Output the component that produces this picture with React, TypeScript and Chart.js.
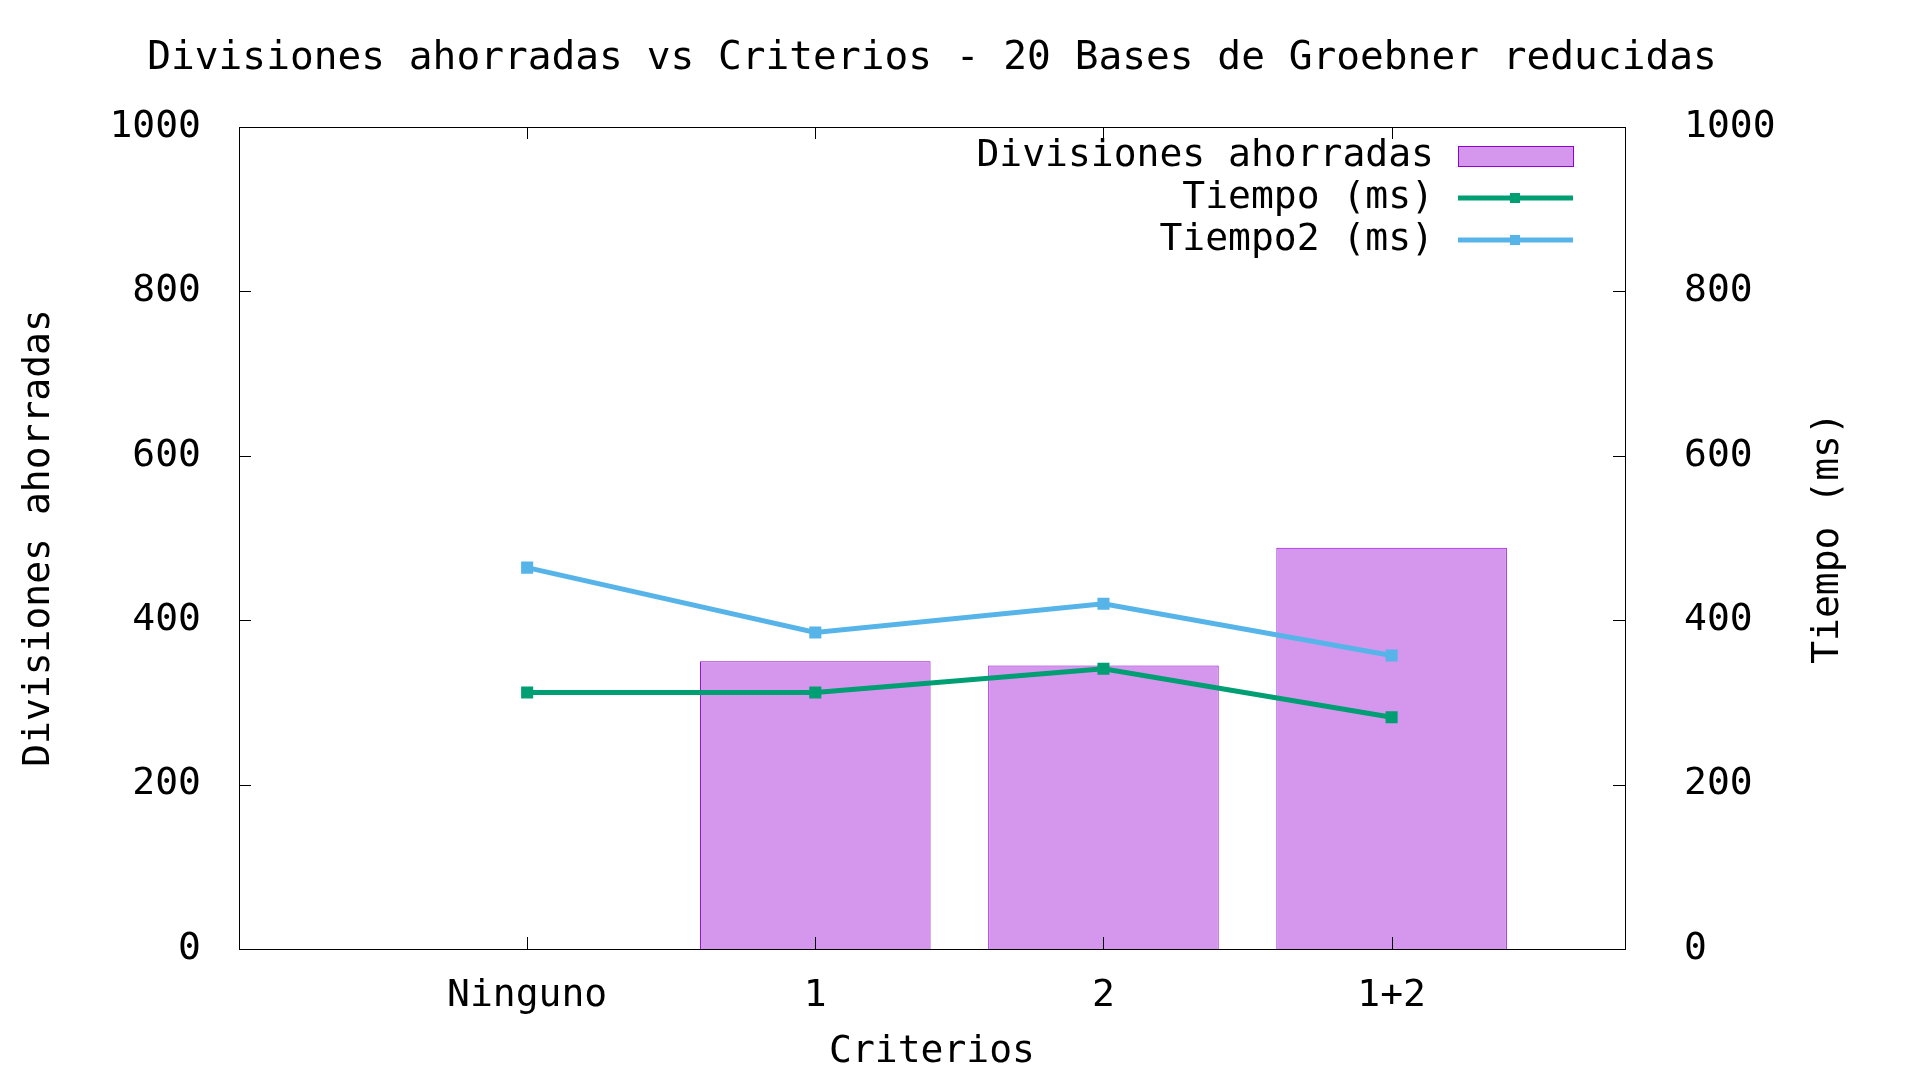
import { useEffect, useRef } from 'react';
import { Chart, registerables } from 'chart.js';

Chart.register(...registerables);

const categories = ['Ninguno', '1', '2', '1+2'];
const divisiones = [0, 350, 345, 488];
const tiempo = [312, 312, 341, 282];
const tiempo2 = [464, 385, 420, 357];
const yTicks = [0, 200, 400, 600, 800, 1000];

const FONT = '"DejaVu Sans Mono", monospace';
const BAR_FILL = '#d597ed';
const BAR_EDGE = '#9400d3';
const GREEN = '#009e73';
const BLUE = '#56b4e9';

const decorPlugin = {
  id: 'decor',
  afterDraw(chart: any) {
    const { ctx, chartArea: a } = chart;
    const ys = chart.scales.y;
    const xs = chart.scales.x;
    ctx.save();
    ctx.strokeStyle = '#000';
    ctx.lineWidth = 1;
    ctx.strokeRect(a.left + 0.5, a.top + 0.5, a.right - a.left, a.bottom - a.top);
    ctx.beginPath();
    yTicks.forEach(v => {
      const y = Math.round(ys.getPixelForValue(v)) + 0.5;
      ctx.moveTo(a.left, y); ctx.lineTo(a.left + 12, y);
      ctx.moveTo(a.right, y); ctx.lineTo(a.right - 12, y);
    });
    categories.forEach((_, i) => {
      const x = Math.round(xs.getPixelForValue(i)) + 0.5;
      ctx.moveTo(x, a.bottom); ctx.lineTo(x, a.bottom - 12);
      ctx.moveTo(x, a.top); ctx.lineTo(x, a.top + 12);
    });
    ctx.stroke();

    ctx.fillStyle = '#000';
    ctx.font = `38px ${FONT}`;
    ctx.textAlign = 'center';
    ctx.textBaseline = 'middle';
    ctx.save();
    ctx.font = `39.5px ${FONT}`;
    ctx.fillText('Divisiones ahorradas vs Criterios - 20 Bases de Groebner reducidas', 932, 59);
    ctx.restore();
    ctx.fillText('Criterios', 932, 1052);
    ctx.save();
    ctx.translate(39, 538); ctx.rotate(-Math.PI / 2);
    ctx.fillText('Divisiones ahorradas', 0, 0);
    ctx.restore();
    ctx.save();
    ctx.translate(1828, 538); ctx.rotate(-Math.PI / 2);
    ctx.fillText('Tiempo (ms)', 0, 0);
    ctx.restore();

    // legend
    ctx.textAlign = 'right';
    const rows = [
      { label: 'Divisiones ahorradas', y: 156, kind: 'bar', color: BAR_FILL },
      { label: 'Tiempo (ms)', y: 198, kind: 'line', color: GREEN },
      { label: 'Tiempo2 (ms)', y: 240, kind: 'line', color: BLUE },
    ];
    rows.forEach(r => {
      ctx.fillStyle = '#000';
      ctx.fillText(r.label, 1434, r.y);
      if (r.kind === 'bar') {
        ctx.fillStyle = r.color;
        ctx.fillRect(1458, r.y - 10, 115, 20);
        ctx.strokeStyle = BAR_EDGE;
        ctx.strokeRect(1458.5, r.y - 9.5, 115, 20);
      } else {
        ctx.strokeStyle = r.color;
        ctx.lineWidth = 5;
        ctx.beginPath(); ctx.moveTo(1458, r.y); ctx.lineTo(1573, r.y); ctx.stroke();
        ctx.fillStyle = r.color;
        ctx.fillRect(1510, r.y - 5, 10, 10);
      }
    });
    ctx.restore();
  },
};

export default function App() {
  const chartRef = useRef<HTMLCanvasElement>(null);

  useEffect(() => {
    document.body.style.margin = '0';
    if (!chartRef.current) return;
    const tickFont = { family: FONT, size: 38 };
    const chart = new Chart(chartRef.current, {
      type: 'bar',
      data: {
        datasets: [
          {
            type: 'line',
            label: 'Tiempo2 (ms)',
            data: tiempo2.map((v, i) => ({ x: i, y: v })),
            borderColor: BLUE,
            backgroundColor: BLUE,
            borderWidth: 5,
            pointStyle: 'rect',
            pointRadius: 5,
            yAxisID: 'y2',
          },
          {
            type: 'line',
            label: 'Tiempo (ms)',
            data: tiempo.map((v, i) => ({ x: i, y: v })),
            borderColor: GREEN,
            backgroundColor: GREEN,
            borderWidth: 5,
            pointStyle: 'rect',
            pointRadius: 5,
            yAxisID: 'y2',
          },
          {
            type: 'bar',
            label: 'Divisiones ahorradas',
            data: divisiones.map((v, i) => ({ x: i, y: v })),
            backgroundColor: BAR_FILL,
            borderColor: BAR_EDGE,
            borderWidth: 1,
            barPercentage: 1,
            categoryPercentage: 0.8,
            grouped: false,
            yAxisID: 'y',
          } as any,
        ],
      },
      options: {
        animation: false,
        responsive: true,
        maintainAspectRatio: false,
        layout: { padding: { top: 127, left: 0, right: 0, bottom: 0 } },
        plugins: { legend: { display: false }, title: { display: false }, tooltip: { enabled: false } },
        scales: {
          x: {
            type: 'linear',
            min: -1,
            max: 3.81,
            offset: false,
            grid: { display: false },
            border: { display: false },
            afterFit: (s: any) => { s.height = 131; },
            afterBuildTicks: (s: any) => { s.ticks = categories.map((_, i) => ({ value: i })); },
            ticks: {
              font: tickFont,
              color: '#000',
              padding: 16,
              autoSkip: false,
              maxRotation: 0,
              callback: (v: any) => categories[v] ?? '',
            },
          },
          y: {
            position: 'left',
            min: 0,
            max: 1000,
            grid: { display: false },
            border: { display: false },
            afterFit: (s: any) => { s.width = 239; },
            ticks: { font: tickFont, color: '#000', stepSize: 200, padding: 30, callback: (v: any) => String(v) },
          },
          y2: {
            position: 'right',
            min: 0,
            max: 1000,
            grid: { display: false },
            border: { display: false },
            afterFit: (s: any) => { s.width = 295; },
            ticks: { font: tickFont, color: '#000', stepSize: 200, padding: 51, callback: (v: any) => String(v) },
          },
        },
      },
      plugins: [decorPlugin],
    });
    return () => chart.destroy();
  }, []);

  return (
    <div style={{ width: 1920, height: 1080, background: 'white' }}>
      <canvas ref={chartRef} />
    </div>
  );
}
